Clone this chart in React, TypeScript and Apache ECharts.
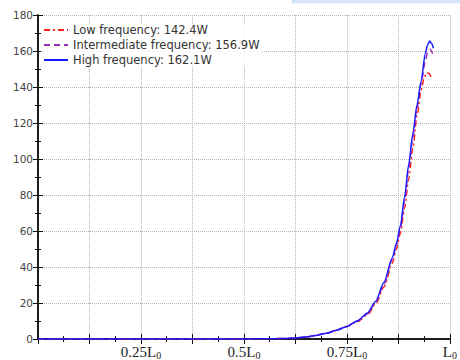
import React, { useEffect, useRef } from "react";
import * as echarts from "echarts";

const seriesNames = [
  "Low frequency: 142.4W",
  "Intermediate frequency: 156.9W",
  "High frequency: 162.1W",
];

const highX = [0, 0.1, 0.2, 0.3, 0.4, 0.5, 0.55, 0.6, 0.625, 0.65, 0.675, 0.7, 0.725, 0.75, 0.775, 0.8, 0.82, 0.84, 0.86, 0.87, 0.88, 0.89, 0.9, 0.91, 0.92, 0.93, 0.94, 0.946, 0.951, 0.956, 0.96];
const highY = [0, 0, 0, 0, 0, 0.05, 0.1, 0.3, 0.6, 1.1, 2, 3.2, 4.9, 7, 10, 14.5, 21, 31.5, 45, 53, 63, 79, 97, 114, 130, 143, 158.5, 163.5, 165.5, 164, 161.5];

const midX = [0, 0.1, 0.2, 0.3, 0.4, 0.5, 0.55, 0.6, 0.625, 0.65, 0.675, 0.7, 0.725, 0.75, 0.775, 0.8, 0.82, 0.84, 0.86, 0.87, 0.88, 0.89, 0.9, 0.91, 0.92, 0.93, 0.94, 0.946, 0.952, 0.958];
const midY = [0, 0, 0, 0, 0, 0.05, 0.1, 0.3, 0.6, 1.1, 2, 3.2, 4.9, 7, 10, 14, 20.5, 30.5, 44, 52, 62, 77, 95, 112, 128, 142, 154, 159.5, 161, 158.5];

const lowX = [0, 0.1, 0.2, 0.3, 0.4, 0.5, 0.55, 0.6, 0.625, 0.65, 0.675, 0.7, 0.725, 0.75, 0.775, 0.8, 0.82, 0.84, 0.86, 0.87, 0.88, 0.89, 0.9, 0.91, 0.92, 0.93, 0.937, 0.944, 0.95, 0.955];
const lowY = [0, 0, 0, 0, 0, 0.05, 0.1, 0.3, 0.6, 1.1, 2, 3.2, 4.9, 7, 9.6, 13.5, 19.5, 29, 42, 50, 59, 73, 89, 106, 124, 138, 145, 148, 147.5, 144.5];

const xLabelValues = [0.25, 0.5, 0.75, 1];
const xLabelTexts = ["0.25", "0.5", "0.75", ""];

const pairs = (xs: number[], ys: number[]) => xs.map((x, i) => [x, ys[i]]);

export default function App() {
  const ref = useRef<HTMLDivElement>(null);
  useEffect(() => {
    const chart = echarts.init(ref.current!, null, { renderer: "svg" });
    const frameAxis = {
      axisLine: { show: true, lineStyle: { color: "#111", width: 1.5 } },
      axisTick: { show: true, inside: true, length: 5, lineStyle: { color: "#111" } },
      minorTick: { show: true, splitNumber: 2, length: 3, lineStyle: { color: "#111" } },
    };
    chart.setOption({
      animation: false,
      backgroundColor: "#fff",
      grid: { left: 38, right: 5, top: 15, bottom: 19, containLabel: false },
      legend: {
        orient: "vertical",
        left: 41,
        top: 24,
        itemGap: 3,
        itemWidth: 24,
        itemHeight: 12,
        backgroundColor: "rgba(255,255,255,0.85)",
        padding: [0, 2, 0, 2],
        itemStyle: { color: "rgba(0,0,0,0)", borderWidth: 0, opacity: 0 },
        textStyle: { fontFamily: "DejaVu Sans", fontSize: 11.5, color: "#333" },
        data: seriesNames,
      },
      graphic: [
        {
          type: "rect",
          shape: { x: 292, y: 0, width: 168, height: 3 },
          style: { fill: "#dbe9f8", stroke: "#c5daf0", lineWidth: 0.5 },
        },
      ],
      xAxis: [
        {
          type: "value",
          min: 0,
          max: 1,
          interval: 0.125,
          ...frameAxis,
          splitLine: { show: true, lineStyle: { type: "dotted", color: "#b5b5b5", width: 1 } },
          axisLabel: {
            margin: 4,
            showMaxLabel: true,
            formatter: (v: number) => {
              const idx = xLabelValues.findIndex((t) => Math.abs(t - v) < 1e-6);
              if (idx < 0) return "";
              return "{n|" + xLabelTexts[idx] + "}{n|L}{s|0}";
            },
            rich: {
              n: { fontFamily: "Liberation Serif", fontSize: 15, color: "#222" },
              s: { fontFamily: "Liberation Serif", fontSize: 10, color: "#222", padding: [7, 0, 0, 0] },
            },
          },
        },
        {
          type: "value",
          position: "top",
          min: 0,
          max: 1,
          interval: 0.125,
          ...frameAxis,
          splitLine: { show: false },
          axisLabel: { show: false },
        },
      ],
      yAxis: [
        {
          type: "value",
          min: 0,
          max: 180,
          interval: 20,
          ...frameAxis,
          splitLine: { show: true, lineStyle: { type: "dotted", color: "#b5b5b5", width: 1 } },
          axisLabel: { fontFamily: "DejaVu Sans", fontSize: 10.5, color: "#444", margin: 5 },
        },
        {
          type: "value",
          position: "right",
          min: 0,
          max: 180,
          interval: 20,
          ...frameAxis,
          splitLine: { show: false },
          axisLabel: { show: false },
        },
      ],
      series: [
        {
          name: seriesNames[0],
          type: "line",
          data: pairs(lowX, lowY),
          symbol: "none",
          smooth: 0.25,
          smoothMonotone: "x",
          lineStyle: { color: "#ff2020", width: 1.5, type: [6, 3, 2, 3] },
          itemStyle: { color: "#ff2020" },
          z: 2,
        },
        {
          name: seriesNames[1],
          type: "line",
          data: pairs(midX, midY),
          symbol: "none",
          smooth: 0.25,
          smoothMonotone: "x",
          lineStyle: { color: "#9b30b8", width: 1.5, type: [6, 4] },
          itemStyle: { color: "#9b30b8" },
          z: 3,
        },
        {
          name: seriesNames[2],
          type: "line",
          data: pairs(highX, highY),
          symbol: "none",
          smooth: 0.25,
          smoothMonotone: "x",
          lineStyle: { color: "#1a1aff", width: 1.5 },
          itemStyle: { color: "#1a1aff" },
          z: 4,
        },
      ],
    });
    return () => chart.dispose();
  }, []);
  return <div ref={ref} style={{ width: 460, height: 360, position: "absolute", left: 0, top: 0 }} />;
}
